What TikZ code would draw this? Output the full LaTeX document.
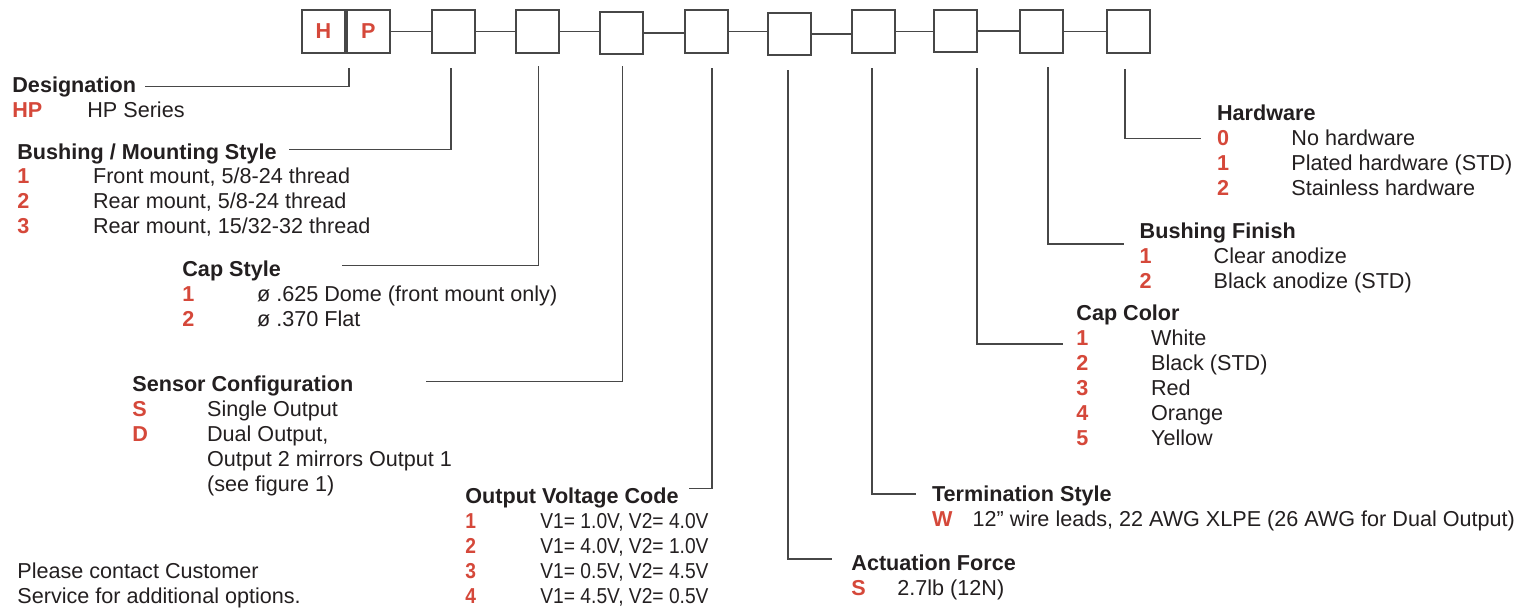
\documentclass[tikz,border=0pt]{standalone}
\usepackage{fontspec}
\setmainfont{Liberation Sans}
\newfontfamily\condfont[FakeStretch=0.89]{Liberation Sans}
\usetikzlibrary{positioning}
\definecolor{hpred}{HTML}{D5483A}
\definecolor{ink}{HTML}{231F20}
\definecolor{rule}{HTML}{474747}
\newcommand{\hpsize}{\fontsize{10.8pt}{12.5pt}\selectfont}
\tikzset{%
    codebox/.style  = {rectangle, draw=rule, line width=1pt, inner sep=0pt,
                       minimum width=21.5pt, minimum height=21.25pt,
                       font=\hpsize\bfseries, text=hpred},
    link/.style     = {draw=rule, line width=0.7pt},
    leader/.style   = {draw=rule, line width=0.65pt},
    head/.style     = {anchor=base west, inner sep=0pt, font=\hpsize\bfseries, text=ink},
    code/.style     = {anchor=base west, inner sep=0pt, font=\hpsize\bfseries, text=hpred},
    desc/.style     = {anchor=base west, inner sep=0pt, font=\hpsize, text=ink},
    cdesc/.style    = {desc, font=\hpsize\condfont},
}
\begin{document}
\begin{tikzpicture}[x=0.5pt, y=-0.5pt]
    \useasboundingbox (0,0) rectangle (1525,607);

    % part number boxes
    \node (H)   [codebox] at (323.3,31.5) {H};
    \node (P)   [codebox, right=0pt of H] {P};
    \node (b3)  [codebox] at (453.3,31.5) {};
    \node (b4)  [codebox] at (537,31.5)   {};
    \node (b5)  [codebox] at (621,32.8)   {};
    \node (b6)  [codebox] at (706.2,31.5) {};
    \node (b7)  [codebox] at (789,33.8)   {};
    \node (b8)  [codebox] at (873.5,31.7) {};
    \node (b9)  [codebox] at (955.5,31)   {};
    \node (b10) [codebox] at (1041,31.7)  {};
    \node (b11) [codebox] at (1128.3,31.5) {};
    \foreach \a/\b in {P/b3, b3/b4, b4/b5, b5/b6, b6/b7, b7/b8, b8/b9, b9/b10, b10/b11}
        \draw[link] (\a.east) -- (\a.east -| \b.west);

    % designation
    \node (dsg)   [head] at (12,92)    {Designation};
    \node (dsg1)  [code] at (12,117)   {HP};
    \node (dsg1t) [desc] at (87,117)   {HP Series};

    % bushing / mounting style
    \node (bms)   [head] at (17,159)   {Bushing / Mounting Style};
    \node (bms1)  [code] at (17,183)   {1};
    \node (bms2)  [code] at (17,208)   {2};
    \node (bms3)  [code] at (17,233)   {3};
    \node (bms1t) [desc] at (92.7,183) {Front mount, 5/8-24 thread};
    \node (bms2t) [desc] at (92.7,208) {Rear mount, 5/8-24 thread};
    \node (bms3t) [desc] at (92.7,233) {Rear mount, 15/32-32 thread};

    % cap style
    \node (cps)   [head] at (182,276.7)   {Cap Style};
    \node (cps1)  [code] at (182,301.7)   {1};
    \node (cps2)  [code] at (182,326.7)   {2};
    \node (cps1t) [desc] at (256.7,301.7) {ø .625 Dome (front mount only)};
    \node (cps2t) [desc] at (256.7,326.7) {ø .370 Flat};

    % sensor configuration (multi-line text sits on its last baseline)
    \node (sns)   [head] at (132,391.7)   {Sensor Configuration};
    \node (snsS)  [code] at (132,416.7)   {S};
    \node (snsD)  [code] at (132,441.7)   {D};
    \node (snsSt) [desc] at (206.7,416.7) {Single Output};
    \node (snsDt) [desc, align=left] at (206.7,491.7)
        {Dual Output,\\Output 2 mirrors Output 1\\(see figure 1)};

    % output voltage code
    \node (ovc)  [head] at (465,503) {Output Voltage Code};
    \foreach \n/\v [count=\i] in {1/{V1= 1.0V, V2= 4.0V}, 2/{V1= 4.0V, V2= 1.0V},
                                  3/{V1= 0.5V, V2= 4.5V}, 4/{V1= 4.5V, V2= 0.5V}} {
        \node (ovc\i)  [code, font=\hpsize\bfseries\condfont] at (465,503+25*\i) {\n};
        \node (ovc\i t) [cdesc] at (540,503+25*\i) {\v};
    }

    % note
    \node (note) [desc, align=left] at (17,603)
        {Please contact Customer\\Service for additional options.};

    % actuation force
    \node (act)   [head] at (851,570) {Actuation Force};
    \node (actS)  [code] at (851,595) {S};
    \node (actSt) [desc] at (897,595) {2.7lb (12N)};

    % termination style
    \node (trm)   [head] at (931.7,501.7) {Termination Style};
    \node (trmW)  [code] at (931.7,526)   {W};
    \node (trmWt) [desc] at (972.3,526)   {12” wire leads, 22 AWG XLPE (26 AWG for Dual Output)};

    % cap color
    \node (cpc) [head] at (1076,320.7) {Cap Color};
    \foreach \c [count=\i] in {White, Black (STD), Red, Orange, Yellow} {
        \node (cpc\i)  [code] at (1076,320.7+25*\i)   {\i};
        \node (cpc\i t) [desc] at (1150.7,320.7+25*\i) {\c};
    }

    % bushing finish
    \node (bfn)   [head] at (1139.3,238.3) {Bushing Finish};
    \node (bfn1)  [code] at (1139.3,263.3) {1};
    \node (bfn2)  [code] at (1139.3,288.3) {2};
    \node (bfn1t) [desc] at (1213.3,263.3) {Clear anodize};
    \node (bfn2t) [desc] at (1213.3,288.3) {Black anodize (STD)};

    % hardware
    \node (hdw)   [head] at (1216.7,120.7) {Hardware};
    \node (hdw0)  [code] at (1216.7,145)   {0};
    \node (hdw1)  [code] at (1216.7,170)   {1};
    \node (hdw2)  [code] at (1216.7,195)   {2};
    \node (hdw0t) [desc] at (1291,145)     {No hardware};
    \node (hdw1t) [desc] at (1291,170)     {Plated hardware (STD)};
    \node (hdw2t) [desc] at (1291,195)     {Stainless hardware};

    % leader lines
    \coordinate (dsg-a) at (349,68);    \coordinate (dsg-b) at (145,86.5);
    \coordinate (bms-a) at (451,68);    \coordinate (bms-b) at (289,149.5);
    \coordinate (cps-a) at (538.5,66);  \coordinate (cps-b) at (341.7,265.7);
    \coordinate (sns-a) at (622.7,66);  \coordinate (sns-b) at (426,381.7);
    \coordinate (ovc-a) at (712,68);    \coordinate (ovc-b) at (689,488.5);
    \coordinate (act-a) at (788,70);    \coordinate (act-b) at (832,559);
    \coordinate (trm-a) at (872,68);    \coordinate (trm-b) at (916,494);
    \coordinate (cpc-a) at (977,68);    \coordinate (cpc-b) at (1062.7,344);
    \coordinate (bfn-a) at (1048,67);   \coordinate (bfn-b) at (1124,244);
    \coordinate (hdw-a) at (1125,69);   \coordinate (hdw-b) at (1201,138.3);
    \foreach \l in {dsg, bms, cps, sns, ovc, act, trm, cpc, bfn, hdw}
        \draw[leader] (\l-a) |- (\l-b);
\end{tikzpicture}
\end{document}
